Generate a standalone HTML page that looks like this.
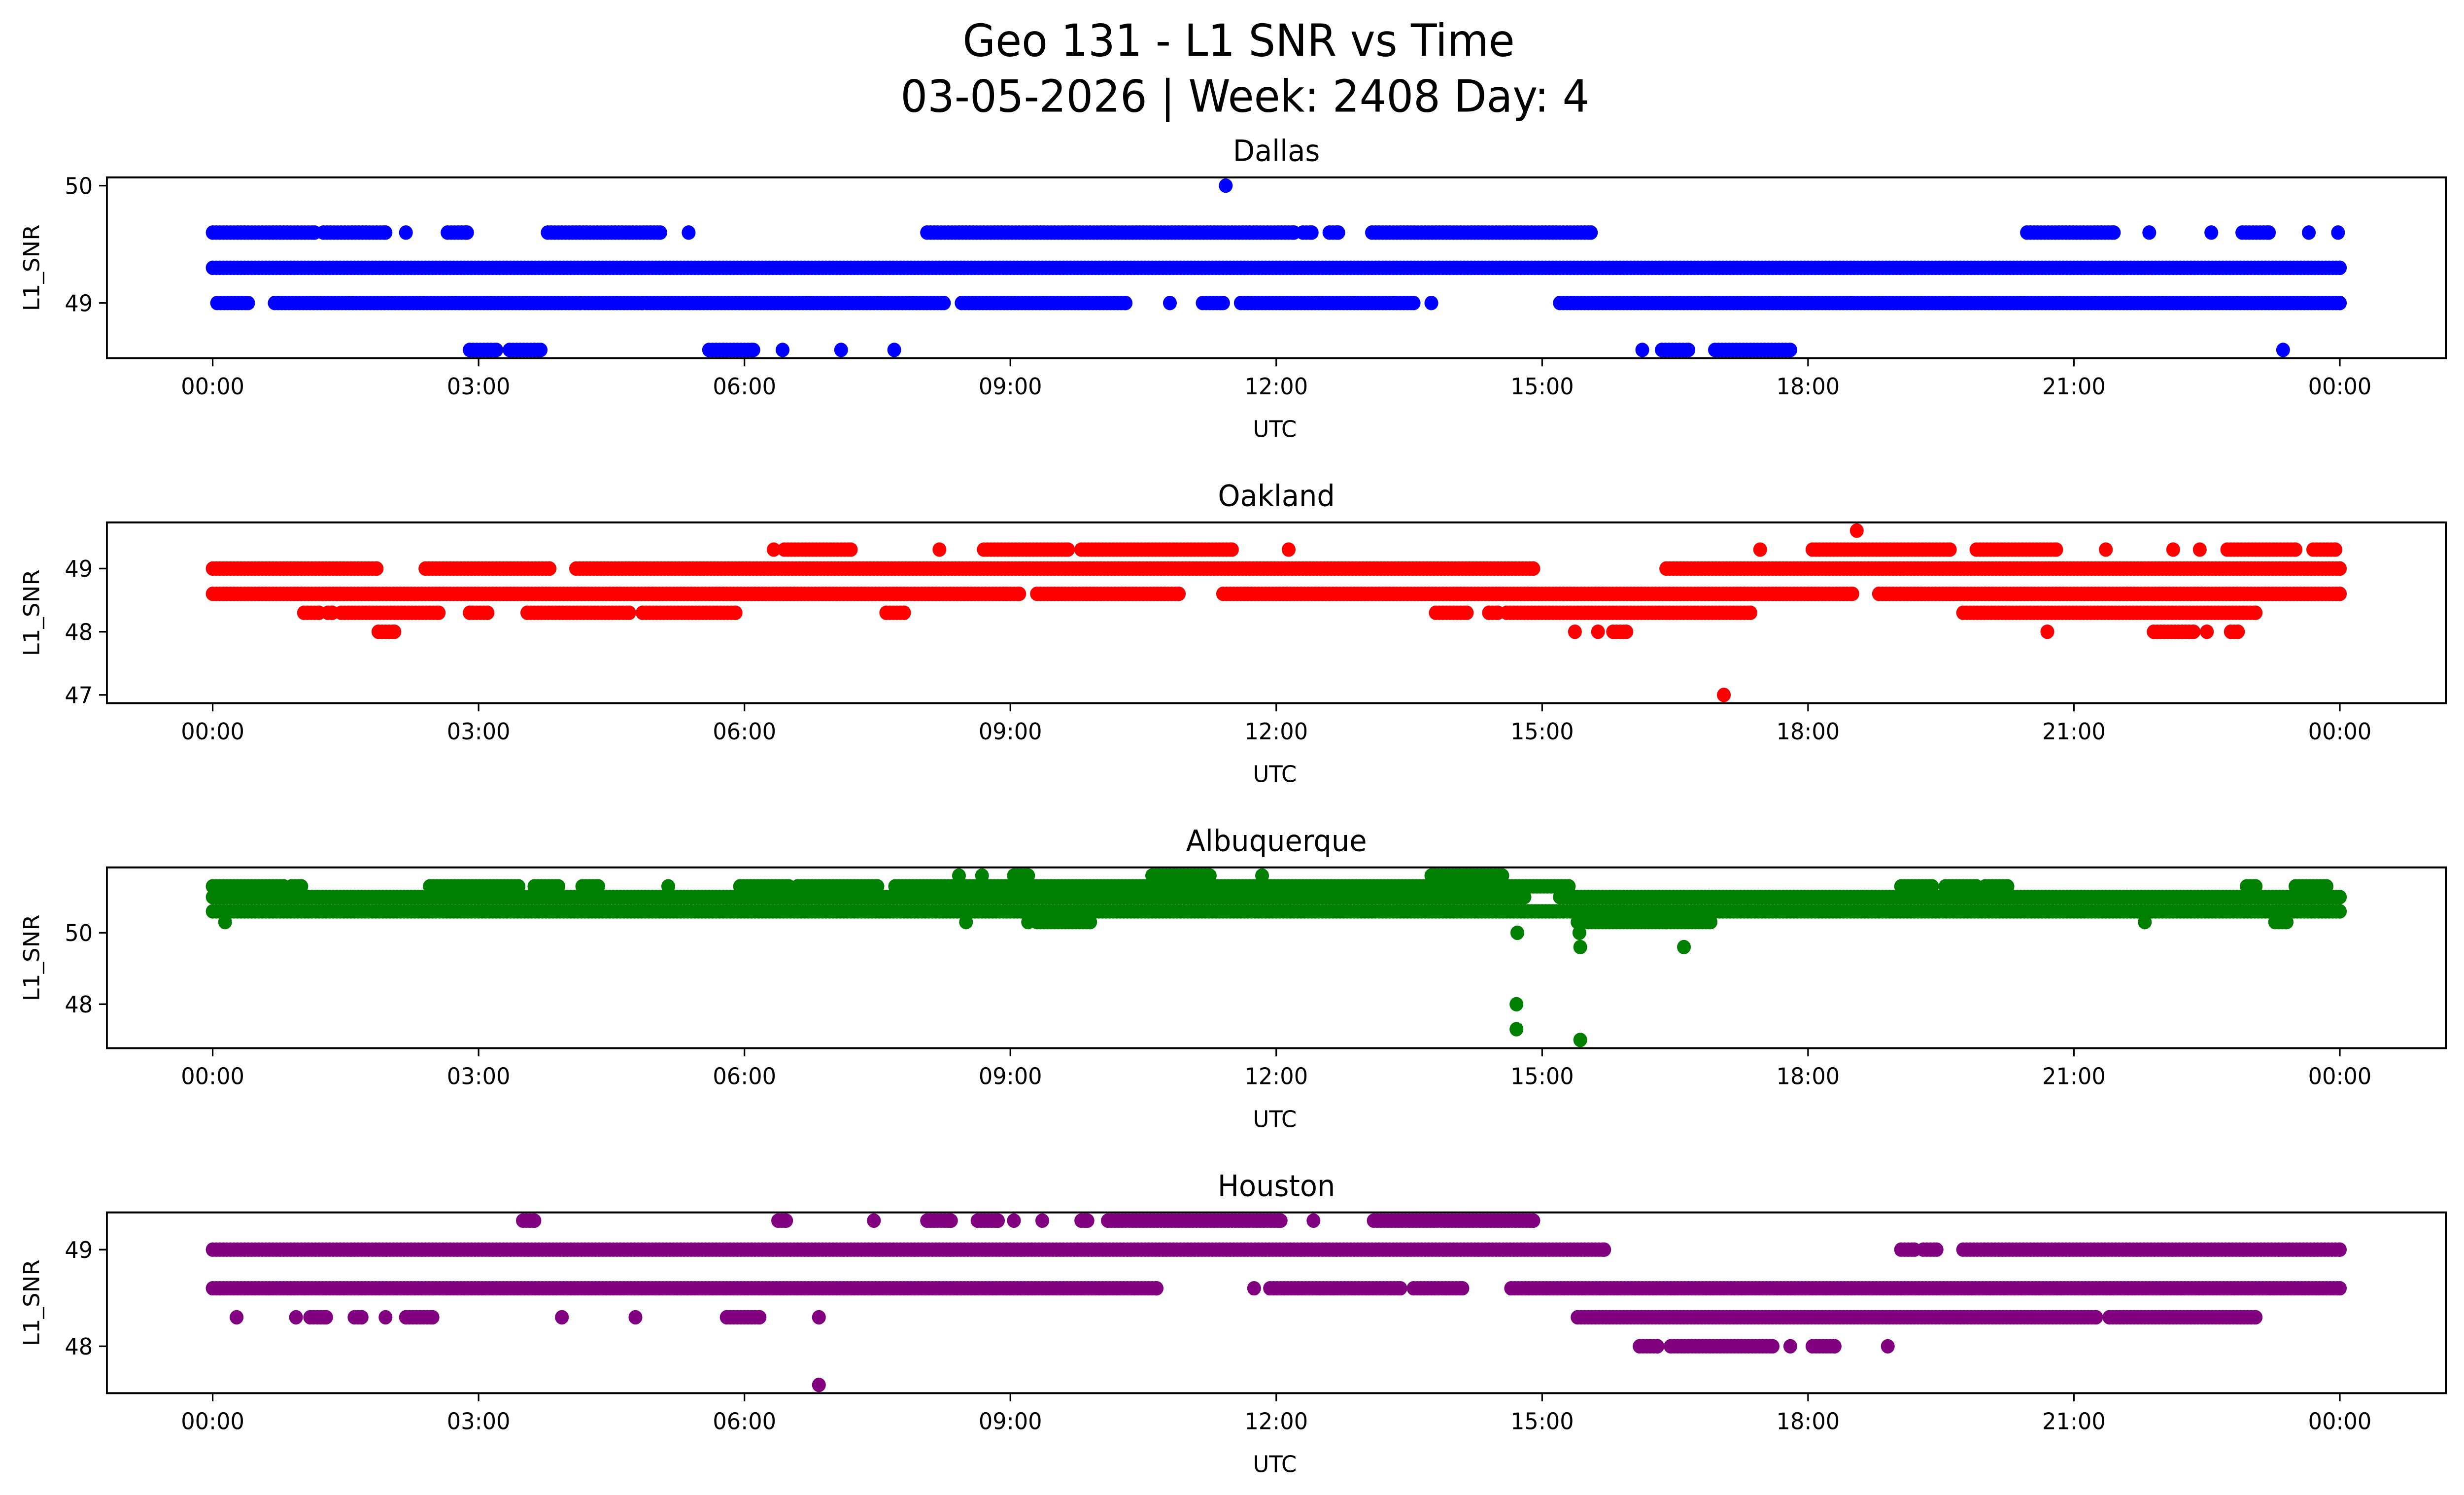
<!DOCTYPE html>
<html><head><meta charset="utf-8"><style>
html,body{margin:0;padding:0;background:#fff;overflow:hidden;width:100%;height:100%;}
svg{display:block;width:100vw;height:100vh;}
text{font-family:"DejaVu Sans","Liberation Sans",sans-serif;fill:#000;}
</style></head><body>
<svg id="fig" viewBox="0 0 1567.5 910" preserveAspectRatio="none" xmlns="http://www.w3.org/2000/svg">
<rect x="0" y="0" width="1567.5" height="910" fill="#fff"/>
<text x="788" y="34" font-size="27" text-anchor="middle">Geo 131 - L1 SNR vs Time</text>
<text x="792" y="68" font-size="27" text-anchor="middle">03-05-2026 | Week: 2408 Day: 4</text>
</svg>
<script>
// shared tick labels (hours)
const xTickHours = [0, 3, 6, 9, 12, 15, 18, 21, 24];
const xTickLabels = ["00:00","03:00","06:00","09:00","12:00","15:00","18:00","21:00","00:00"];

// Each run: [snr level, start hour, end hour]; single points have start == end
const dallasRuns = [
 [50,11.43,11.43],
 [49.6,0,1.15],[49.6,1.25,1.95],[49.6,2.18,2.18],[49.6,2.65,2.87],[49.6,3.78,5.05],[49.6,5.37,5.37],
 [49.6,8.06,12.2],[49.6,12.3,12.4],[49.6,12.6,12.7],[49.6,13.08,15.55],[49.6,20.47,21.45],[49.6,21.85,21.85],[49.6,22.55,22.55],[49.6,22.9,23.2],[49.6,23.65,23.65],[49.6,23.98,23.98],
 [49.3,0,24],
 [49,0.05,0.4],[49,0.7,4.15],[49,4.2,4.85],[49,4.9,8.25],[49,8.45,10.3],[49,10.8,10.8],[49,11.17,11.4],[49,11.6,13.55],[49,13.75,13.75],[49,15.2,24],
 [48.6,2.9,3.2],[48.6,3.35,3.7],[48.6,5.6,6.1],[48.6,6.43,6.43],[48.6,7.09,7.09],[48.6,7.69,7.69],[48.6,16.13,16.13],[48.6,16.35,16.65],[48.6,16.95,17.8],[48.6,23.36,23.36]
];
const oaklandRuns = [
 [49.6,18.55,18.55],
 [49.3,6.33,6.33],[49.3,6.45,7.2],[49.3,8.2,8.2],[49.3,8.7,9.65],[49.3,9.8,11.5],[49.3,12.14,12.14],[49.3,17.46,17.46],[49.3,18.05,19.6],[49.3,19.9,20.8],[49.3,21.36,21.36],[49.3,22.12,22.12],[49.3,22.42,22.42],[49.3,22.73,23.5],[49.3,23.7,23.95],
 [49,0,1.85],[49,2.4,3.8],[49,4.1,14.9],[49,16.4,24],
 [48.6,0,9.1],[48.6,9.3,10.9],[48.6,11.4,18.5],[48.6,18.8,24],
 [48.3,1.03,1.2],[48.3,1.3,1.35],[48.3,1.45,2.55],[48.3,2.9,3.1],[48.3,3.55,4.7],[48.3,4.85,5.9],[48.3,7.6,7.8],[48.3,13.8,14.15],[48.3,14.4,14.5],[48.3,14.6,17.35],[48.3,19.75,23.05],
 [48,1.87,2.05],[48,15.37,15.37],[48,15.63,15.63],[48,15.8,15.95],[48,20.7,20.7],[48,21.9,22.35],[48,22.5,22.5],[48,22.77,22.85],
 [47,17.05,17.05]
];
const albuquerqueRuns = [
 [51.6,8.42,8.42],[51.6,8.68,8.68],[51.6,9.04,9.2],[51.6,10.6,11.25],[51.6,11.84,11.84],[51.6,13.75,14.55],
 [51.3,0,0.8],[51.3,0.89,1.0],[51.3,2.45,3.45],[51.3,3.63,3.9],[51.3,4.17,4.35],[51.3,5.14,5.14],[51.3,5.95,6.5],[51.3,6.6,7.5],[51.3,7.7,15.3],[51.3,19.05,19.4],[51.3,19.55,19.9],[51.3,20.0,20.25],[51.3,22.95,23.05],[51.3,23.5,23.85],
 [51,0,14.8],[51,15.2,24],
 [50.6,0,24],
 [50.3,0.14,0.14],[50.3,8.5,8.5],[50.3,9.2,9.2],[50.3,9.3,9.9],[50.3,15.4,16.4],[50.3,16.45,16.9],[50.3,21.8,21.8],[50.3,23.27,23.4],
 [50,14.72,14.72],[50,15.42,15.42],
 [49.6,15.43,15.43],[49.6,16.6,16.6],
 [48,14.71,14.71],[47.3,14.71,14.71],[47,15.43,15.43]
];
const houstonRuns = [
 [49.3,3.5,3.63],[49.3,6.38,6.47],[49.3,7.46,7.46],[49.3,8.06,8.33],[49.3,8.63,8.86],[49.3,9.04,9.04],[49.3,9.36,9.36],[49.3,9.8,9.87],[49.3,10.1,12.05],[49.3,12.42,12.42],[49.3,13.1,14.9],
 [49,0,15.7],[49,19.05,19.2],[49,19.3,19.45],[49,19.75,24],
 [48.6,0,10.65],[48.6,11.75,11.75],[48.6,11.93,13.4],[48.6,13.55,14.1],[48.6,14.65,24],
 [48.3,0.27,0.27],[48.3,0.94,0.94],[48.3,1.1,1.28],[48.3,1.6,1.68],[48.3,1.95,1.95],[48.3,2.18,2.48],[48.3,3.94,3.94],[48.3,4.77,4.77],[48.3,5.8,6.17],[48.3,6.84,6.84],[48.3,15.4,21.25],[48.3,21.4,23.05],
 [48,16.1,16.3],[48,16.45,17.6],[48,17.8,17.8],[48,18.05,18.3],[48,18.9,18.9],
 [47.6,6.84,6.84]
];

const panels = [
 {name:"dallas", title:"Dallas", runs:dallasRuns, color:"#0000ff", yTicks:[50,49], yMin:48.53, yMax:50.07},
 {name:"oakland", title:"Oakland", runs:oaklandRuns, color:"#ff0000", yTicks:[49,48,47], yMin:46.87, yMax:49.73},
 {name:"albuquerque", title:"Albuquerque", runs:albuquerqueRuns, color:"#008000", yTicks:[50,48], yMin:46.77, yMax:51.83},
 {name:"houston", title:"Houston", runs:houstonRuns, color:"#800080", yTicks:[49,48], yMin:47.515, yMax:49.385}
];

const NS = "http://www.w3.org/2000/svg";
const svg = document.getElementById('fig');
const L = 68, R = 1556, H = 110;
const X0 = 135.3, X24 = 1488.5;
function xScale(h){ return X0 + (X24 - X0) * h / 24; }
function mk(tag, attrs){ const e = document.createElementNS(NS, tag); for (const k in attrs) e.setAttribute(k, attrs[k]); return e; }

panels.forEach((p, i) => {
  const top = 108 + 210 * i, bot = top + H;
  const yScale = v => bot - (v - p.yMin) / (p.yMax - p.yMin) * H;
  const g = mk('g', {});
  
  
  svg.appendChild(g);

  const t = mk('text', {x: (L + R) / 2, y: top - 10, 'font-size': 18, 'text-anchor': 'middle'});
  
  
  t.textContent = p.title; g.appendChild(t);

  const pts = mk('g', {fill: p.color});
  
  
  g.appendChild(pts);
  p.runs.forEach(r => {
    const [lvl, a, b] = r;
    const step = 0.04;
    for (let h = a; h <= b + 1e-9; h += step) {
      const c = mk('circle', {cx: xScale(h).toFixed(2), cy: yScale(lvl).toFixed(2), r: 4.4});
      
      
      pts.appendChild(c);
    }
    if (b > a) {
      const c = mk('circle', {cx: xScale(b).toFixed(2), cy: yScale(lvl).toFixed(2), r: 4.4});
      
      
      pts.appendChild(c);
    }
  });

  const frame = mk('rect', {x: L, y: top, width: R - L, height: H, fill: 'none', stroke: '#000', 'stroke-width': 1.2});
  
  
  g.appendChild(frame);

  xTickHours.forEach((h, k) => {
    const x = xScale(h);
    const tk = mk('line', {x1: x, x2: x, y1: bot, y2: bot + 5, stroke: '#000', 'stroke-width': 1});
    
    
    g.appendChild(tk);
    const tl = mk('text', {x: x, y: bot + 22, 'font-size': 14, 'text-anchor': 'middle'});
    
    
    tl.textContent = xTickLabels[k]; g.appendChild(tl);
  });
  p.yTicks.forEach(v => {
    const y = yScale(v);
    const tk = mk('line', {x1: L - 5, x2: L, y1: y, y2: y, stroke: '#000', 'stroke-width': 1});
    
    
    g.appendChild(tk);
    const tl = mk('text', {x: L - 9, y: y + 5, 'font-size': 14, 'text-anchor': 'end'});
    
    
    tl.textContent = String(v); g.appendChild(tl);
  });
  const xl = mk('text', {x: (L + R) / 2 - 1, y: bot + 48, 'font-size': 14, 'text-anchor': 'middle'});
  
  
  xl.textContent = 'UTC'; g.appendChild(xl);
  const yl = mk('text', {x: 0, y: 0, 'font-size': 14, 'text-anchor': 'middle', transform: `translate(25,${top + H / 2}) rotate(-90)`});
  
  
  yl.textContent = 'L1_SNR'; g.appendChild(yl);
});
</script>
</body></html>
